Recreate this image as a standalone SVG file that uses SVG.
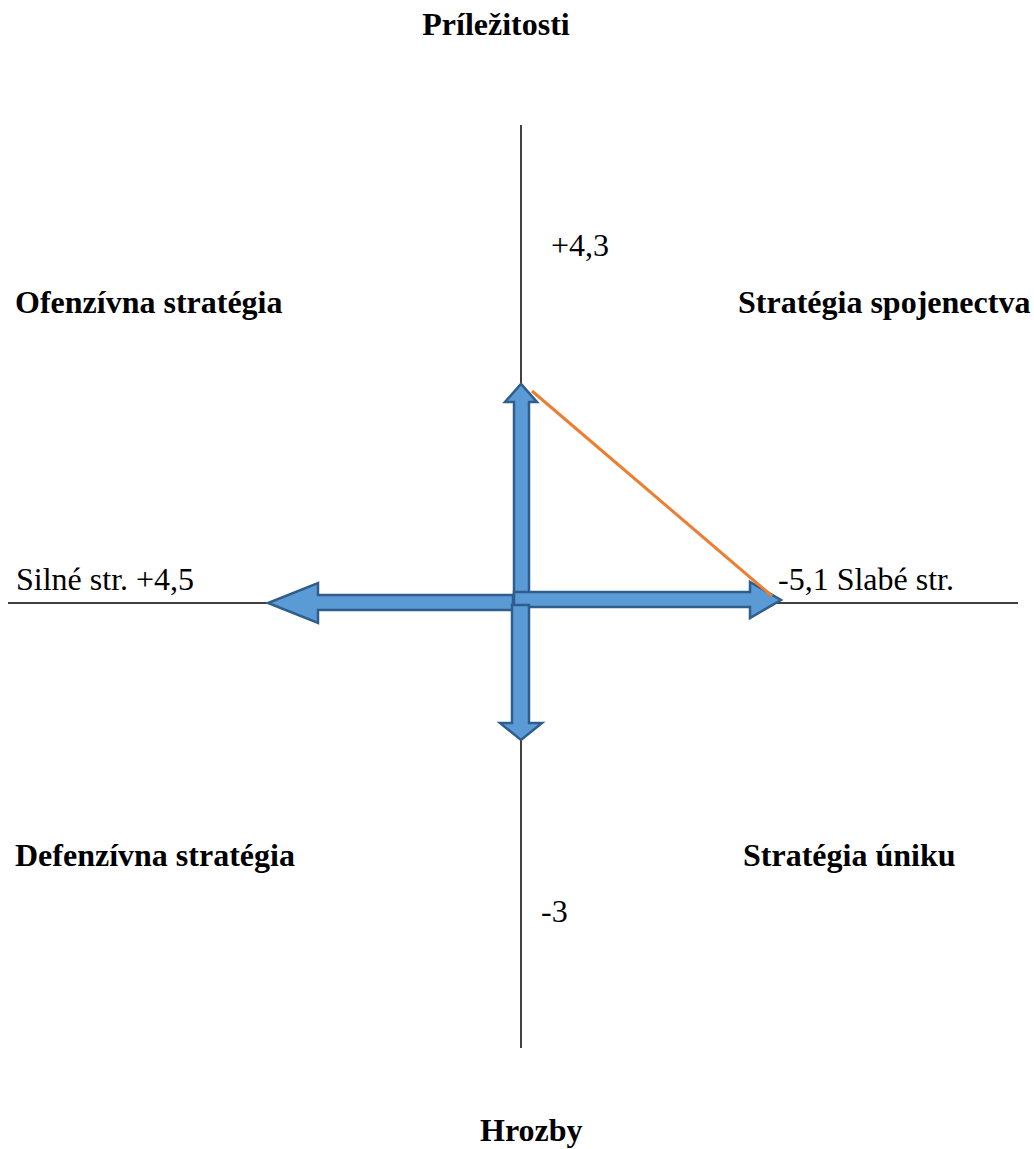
<svg xmlns="http://www.w3.org/2000/svg" width="1034" height="1149" viewBox="0 0 1034 1149">
<style>
.t{font-family:"Liberation Serif","Times New Roman",serif;font-size:32px;fill:#000}
.b{font-weight:bold}
.ax{stroke:#000;stroke-width:1.5;fill:none}
.ar{fill:#5B9BD5;stroke:#2F5D8C;stroke-width:2.5;stroke-linejoin:miter}
</style>
<rect width="1034" height="1149" fill="#fff"/>
<g id="axes">
<line class="ax" x1="521" y1="125" x2="521" y2="1048"/>
<line class="ax" x1="8" y1="603" x2="1018" y2="603"/>
</g>
<g id="connectors">
<path id="arrow-up" class="ar" d="M514,593 L514,402 L505,402 L521,384 L537,402 L529,402 L529,593 Z"/>
<path id="arrow-left" class="ar" d="M513,595 L318,595 L318,583 L268,603 L318,623 L318,610 L513,610 Z"/>
<path id="arrow-right" class="ar" d="M514,592 L750,592 L750,582 L781,600 L750,618 L750,607 L514,607 Z"/>
<path id="arrow-down" class="ar" d="M512,605 L529,605 L529,723 L542,723 L521,740 L500,723 L512,723 Z"/>
<line id="orange-line" x1="532" y1="391" x2="772" y2="596" stroke="#ED7D31" stroke-width="3"/>
</g>
<g id="labels">
<text class="t b" x="496" y="35" text-anchor="middle">Príležitosti</text>
<text class="t" x="551" y="256">+4,3</text>
<text class="t b" x="15" y="313">Ofenzívna stratégia</text>
<text class="t b" x="738" y="313">Stratégia spojenectva</text>
<text class="t" x="16" y="590">Silné str. +4,5</text>
<text class="t" x="778" y="590">-5,1 Slabé str.</text>
<text class="t b" x="15" y="866">Defenzívna stratégia</text>
<text class="t b" x="743" y="866">Stratégia úniku</text>
<text class="t" x="541" y="922">-3</text>
<text class="t b" x="480" y="1141">Hrozby</text>
</g>
</svg>
